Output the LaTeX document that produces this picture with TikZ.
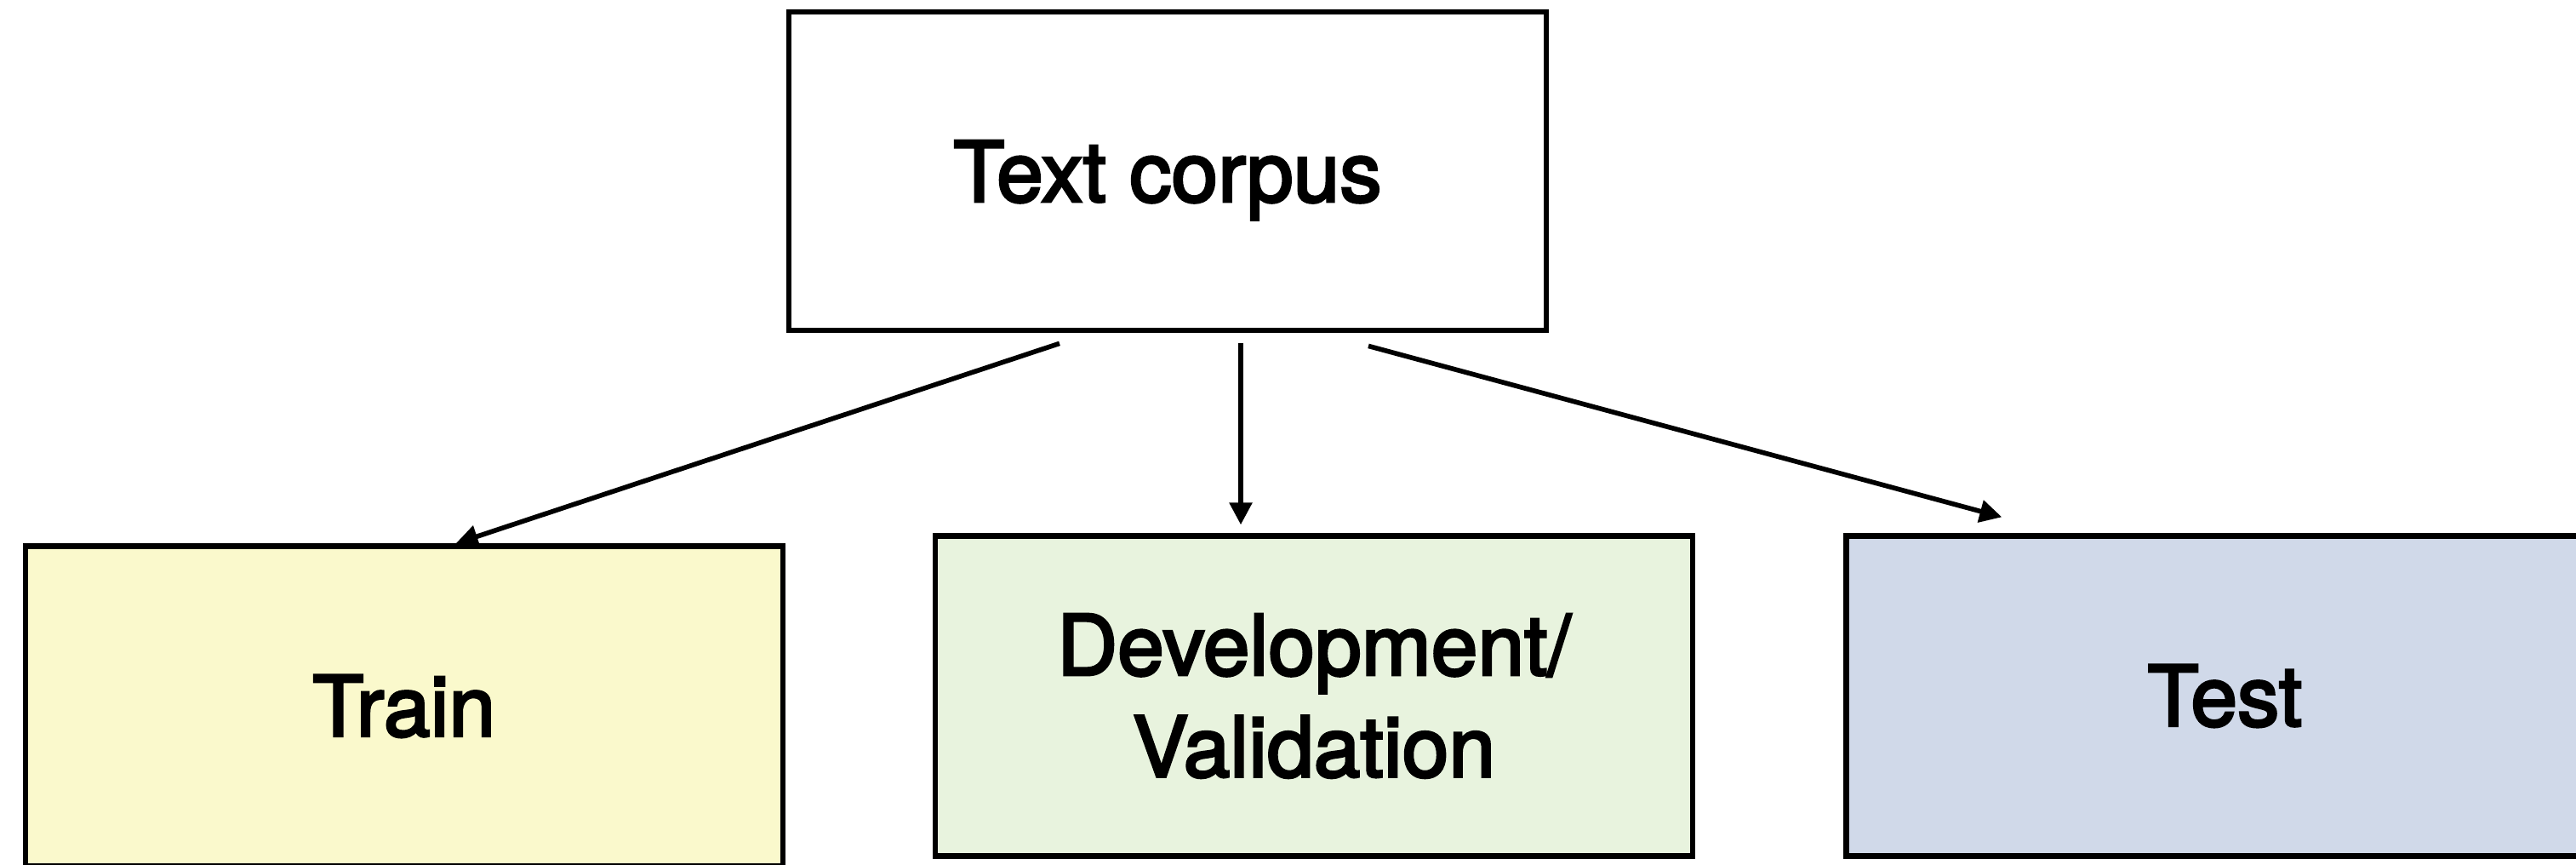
\documentclass[tikz,border=0pt]{standalone}
\usepackage{fontspec}
\setmainfont{TeX Gyre Heros}
\newfontfamily\boxfont{TeX Gyre Heros}[FakeBold=3]
\usetikzlibrary{arrows.meta, positioning}

\definecolor{trainfill}{HTML}{FAF9CC}
\definecolor{devfill}{HTML}{E8F3DE}
\definecolor{testfill}{HTML}{D0D9E9}

\tikzset{
    block/.style={draw, line width=1.8pt, minimum width=8.9cm, minimum height=3.76cm,
        inner sep=0pt, align=center, font=\boxfont\fontsize{28}{34}\selectfont},
    split/.style={-{Triangle[length=2.6mm, width=2.6mm]}, line width=1.6pt},
}

\begin{document}
\begin{tikzpicture}
    \useasboundingbox (0,0) rectangle (30.27,-10.16);

    % Corpus on top
    \node[block, minimum height=3.745cm, text depth=0pt] (corpus) at (13.72,-2.01) {Text corpus};

    % The three splits
    \node[block, fill=devfill] (dev) at (15.44,-8.175) {Development/\\Validation};
    \node[block, fill=trainfill, left=1.73cm of dev, yshift=-0.12cm] (train) {Train};
    \node[block, fill=testfill, right=1.74cm of dev] (test) {Test};

    % Arrows from the corpus down to each split
    \draw[split] ([xshift=-1.27cm, yshift=-0.12cm]corpus.south) -- ([xshift=0.61cm]train.north);
    \draw[split] ([xshift=0.86cm, yshift=-0.12cm]corpus.south) -- ([xshift=-0.86cm, yshift=0.1cm]dev.north);
    \draw[split] ([xshift=2.36cm, yshift=-0.15cm]corpus.south) -- ([xshift=-2.62cm, yshift=0.19cm]test.north);
\end{tikzpicture}
\end{document}
